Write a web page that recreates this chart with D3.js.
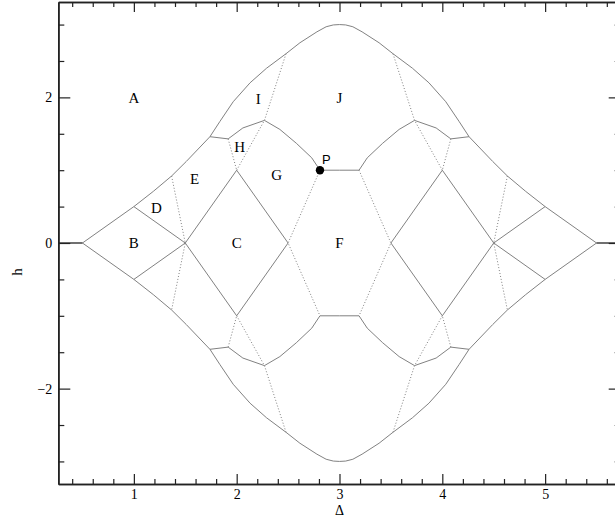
<!DOCTYPE html>
<html><head><meta charset="utf-8">
<script src="https://cdn.jsdelivr.net/npm/d3@7"></script>
<style>
html,body{margin:0;padding:0;background:#fff;overflow:hidden;}
svg{display:block;}
</style></head>
<body>
<svg id="chart" width="615" height="520"></svg>
<script>
// ---- data ----
const xDomain = [0.265, 5.735];
const yDomain = [-3.31, 3.31];
const xMajorTicks = [1, 2, 3, 4, 5];
const xMinorTicks = [0.4, 0.6, 0.8, 1.2, 1.4, 1.6, 1.8, 2.2, 2.4, 2.6, 2.8, 3.2, 3.4, 3.6, 3.8, 4.2, 4.4, 4.6, 4.8, 5.2, 5.4, 5.6];
const yMajorTicks = [-2, 0, 2];
const yMinorTicks = [-3, -2.5, -1.5, -1, -0.5, 0.5, 1, 1.5, 2.5, 3];

const axisStubs = [
  [[0.265, 0], [0.5, 0]],
  [[5.5, 0], [5.735, 0]]
];
const domeUpper = [[1.74,1.46],[1.837,1.67],[1.966,1.94],[2.13,2.2],[2.29,2.4],[2.48,2.6],[2.615,2.75],[2.78,2.9],[2.87,2.97],[2.94,2.995],[3,3],[3.06,2.995],[3.13,2.97],[3.22,2.9],[3.385,2.75],[3.52,2.6],[3.71,2.4],[3.87,2.2],[4.034,1.94],[4.163,1.67],[4.26,1.46]];
const domeLower = [[1.74,-1.46],[1.837,-1.67],[1.966,-1.94],[2.13,-2.2],[2.29,-2.4],[2.48,-2.6],[2.615,-2.75],[2.78,-2.9],[2.87,-2.97],[2.94,-2.995],[3,-3],[3.06,-2.995],[3.13,-2.97],[3.22,-2.9],[3.385,-2.75],[3.52,-2.6],[3.71,-2.4],[3.87,-2.2],[4.034,-1.94],[4.163,-1.67],[4.26,-1.46]];
const innerUpper = [[1.74,1.46],[1.917,1.43],[2.06,1.58],[2.27,1.684],[2.42,1.56],[2.58,1.37],[2.73,1.17],[2.81,1.0],[3.0,1.0],[3.19,1.0],[3.27,1.17],[3.42,1.37],[3.58,1.56],[3.73,1.684],[3.94,1.58],[4.083,1.43],[4.26,1.46]];
const innerLower = [[1.74,-1.46],[1.917,-1.43],[2.06,-1.58],[2.27,-1.684],[2.42,-1.56],[2.58,-1.37],[2.73,-1.17],[2.81,-1.0],[3.0,-1.0],[3.19,-1.0],[3.27,-1.17],[3.42,-1.37],[3.58,-1.56],[3.73,-1.684],[3.94,-1.58],[4.083,-1.43],[4.26,-1.46]];
const outerLeftUpper = [[0.5,0],[1,0.5],[1.19,0.71],[1.367,0.92],[1.51,1.12],[1.74,1.46]];
const outerLeftLower = [[0.5,0],[1,-0.5],[1.19,-0.71],[1.367,-0.92],[1.51,-1.12],[1.74,-1.46]];
const outerRightUpper = [[4.26,1.46],[4.49,1.12],[4.633,0.92],[4.81,0.71],[5,0.5],[5.5,0]];
const outerRightLower = [[4.26,-1.46],[4.49,-1.12],[4.633,-0.92],[4.81,-0.71],[5,-0.5],[5.5,0]];
const solidSegments = [
  [[1,0.5],[1.5,0]], [[1,-0.5],[1.5,0]],
  [[1.5,0],[2,1]], [[1.5,0],[2,-1]],
  [[2,1],[2.5,0]], [[2,-1],[2.5,0]],
  [[5,0.5],[4.5,0]], [[5,-0.5],[4.5,0]],
  [[4.5,0],[4,1]], [[4.5,0],[4,-1]],
  [[4,1],[3.5,0]], [[4,-1],[3.5,0]]
];
const dottedSegments = [
  [[1.367,0.92],[1.5,0],[1.367,-0.92]],
  [[1.917,1.43],[2,1]], [[1.917,-1.43],[2,-1]],
  [[2,1],[2.27,1.684],[2.48,2.6]], [[2,-1],[2.27,-1.684],[2.48,-2.6]],
  [[2.81,1],[2.5,0],[2.81,-1]],
  [[4.633,0.92],[4.5,0],[4.633,-0.92]],
  [[4.083,1.43],[4,1]], [[4.083,-1.43],[4,-1]],
  [[4,1],[3.73,1.684],[3.52,2.6]], [[4,-1],[3.73,-1.684],[3.52,-2.6]],
  [[3.19,1],[3.5,0],[3.19,-1]]
];
const regionLabels = ["A","B","C","D","E","F","G","H","I","J"];
const regionX = [1.0, 1.0, 2.0, 1.22, 1.59, 3.0, 2.39, 2.03, 2.21, 3.0];
const regionY = [2.0, 0.0, 0.0, 0.48, 0.88, 0.0, 0.94, 1.33, 1.99, 2.0];
const pointP = [2.81, 1.0];

// ---- drawing ----
const svg = d3.select("#chart");
const x = d3.scaleLinear().domain(xDomain).range([58.3, 620.7]);
const y = d3.scaleLinear().domain(yDomain).range([484, 2]);
const line = d3.line().x(d => x(d[0])).y(d => y(d[1]));

const lines = svg.append("g").attr("fill", "none");
[domeUpper, domeLower, innerUpper, innerLower, outerLeftUpper, outerLeftLower, outerRightUpper, outerRightLower]
  .concat(solidSegments)
  .forEach(pts => lines.append("path").attr("d", line(pts))
      .attr("stroke", "#7a7a7a").attr("stroke-width", 0.95));
dottedSegments.forEach(pts => lines.append("path").attr("d", line(pts))
      .attr("stroke", "#808080").attr("stroke-width", 1).attr("stroke-dasharray", "1,2"));
axisStubs.forEach(pts => lines.append("path").attr("d", line(pts))
      .attr("stroke", "#111").attr("stroke-width", 1.2));

// P marker
svg.append("circle").attr("cx", x(pointP[0])).attr("cy", y(pointP[1])).attr("r", 4.2).attr("fill", "#000");
svg.append("text").attr("x", x(pointP[0]) + 2).attr("y", y(pointP[1]) - 6)
  .attr("font-family", "Liberation Sans, Arial, sans-serif").attr("font-size", 13).text("P");

// region labels
svg.append("g").selectAll("text").data(regionLabels).join("text")
  .attr("x", (d, i) => x(regionX[i])).attr("y", (d, i) => y(regionY[i]))
  .attr("dy", "0.36em").attr("text-anchor", "middle")
  .attr("font-family", "Liberation Serif, Times New Roman, serif").attr("font-size", 15)
  .text(d => d);

// axes
const serif = "Liberation Serif, Times New Roman, serif";
function styleAxis(g) {
  g.selectAll(".domain").attr("stroke", "#222").attr("stroke-width", 1.6);
  g.selectAll(".tick line").attr("stroke", "#222").attr("stroke-width", 1.2);
  g.selectAll("text").attr("font-family", serif).attr("font-size", 14).attr("fill", "#000");
}
function addAxis(axis, tx, ty) {
  const g = svg.append("g").attr("transform", `translate(${tx},${ty})`).call(axis);
  styleAxis(g);
  return g;
}
addAxis(d3.axisBottom(x).tickValues(xMajorTicks).tickSize(-10).tickSizeOuter(0).tickPadding(5).tickFormat(d3.format("d")), 0, y(yDomain[0]));
addAxis(d3.axisBottom(x).tickValues(xMinorTicks).tickSize(-5).tickSizeOuter(0).tickFormat(""), 0, y(yDomain[0]));
addAxis(d3.axisTop(x).tickValues(xMajorTicks).tickSize(-10).tickSizeOuter(0).tickFormat(""), 0, y(yDomain[1]));
addAxis(d3.axisTop(x).tickValues(xMinorTicks).tickSize(-5).tickSizeOuter(0).tickFormat(""), 0, y(yDomain[1]));
addAxis(d3.axisLeft(y).tickValues(yMajorTicks).tickSize(-12).tickSizeOuter(0).tickPadding(6).tickFormat(d3.format("d")), x(xDomain[0]), 0);
addAxis(d3.axisLeft(y).tickValues(yMinorTicks).tickSize(-6).tickSizeOuter(0).tickFormat(""), x(xDomain[0]), 0);
addAxis(d3.axisRight(y).tickValues(yMajorTicks).tickSize(-12).tickSizeOuter(0).tickFormat(""), x(xDomain[1]), 0);
addAxis(d3.axisRight(y).tickValues(yMinorTicks).tickSize(-6).tickSizeOuter(0).tickFormat(""), x(xDomain[1]), 0);

// axis titles
svg.append("text").attr("x", x(3)).attr("y", 515).attr("text-anchor", "middle")
  .attr("font-family", serif).attr("font-size", 14).text("Δ");
svg.append("text").attr("transform", "translate(22,272) rotate(-90)").attr("text-anchor", "middle")
  .attr("font-family", serif).attr("font-size", 15).text("h");
</script>
</body></html>
